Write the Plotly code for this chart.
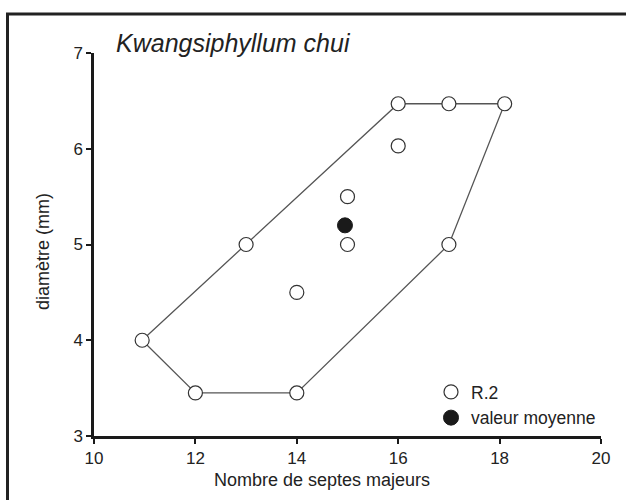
import plotly.graph_objects as go

# Data
r2_x = [10.95, 12, 14, 13, 14, 15, 15, 16, 16, 17, 18.1, 17]
r2_y = [4.0, 3.45, 3.45, 5.0, 4.5, 5.5, 5.0, 6.03, 6.47, 6.47, 6.47, 5.0]
hull_x = [10.95, 13, 16, 17, 18.1, 17, 14, 12, 10.95]
hull_y = [4.0, 5.0, 6.47, 6.47, 6.47, 5.0, 3.45, 3.45, 4.0]
mean_x = [14.95]
mean_y = [5.2]
x_ticks = [10, 12, 14, 16, 18, 20]
y_ticks = [3, 4, 5, 6, 7]

W, H = 626, 500
ML, MR, MT, MB = 94, 25, 53, 64
PW, PH = W - ML - MR, H - MT - MB

def px2paper_x(px):
    return (px - ML) / PW

def px2paper_y(py):
    return (H - MB - py) / PH

FONT = "Liberation Sans, Arial, sans-serif"
TXT = "#222222"

fig = go.Figure()
fig.add_trace(go.Scatter(
    x=hull_x, y=hull_y, mode="lines",
    line=dict(color="#555555", width=1.3),
    showlegend=False, hoverinfo="skip"))
fig.add_trace(go.Scatter(
    x=r2_x, y=r2_y, mode="markers", name="R.2",
    marker=dict(symbol="circle", size=14, color="white",
                line=dict(color="#333333", width=1.2))))
fig.add_trace(go.Scatter(
    x=mean_x, y=mean_y, mode="markers", name="valeur moyenne",
    marker=dict(symbol="circle", size=15, color="#1a1a1a",
                line=dict(color="#1a1a1a", width=1))))

fig.update_layout(
    width=W, height=H,
    margin=dict(l=ML, r=MR, t=MT, b=MB),
    paper_bgcolor="white", plot_bgcolor="white",
    font=dict(family=FONT, color=TXT, size=17),
    xaxis=dict(range=[10, 20], tickvals=x_ticks, showgrid=False, zeroline=False,
               showline=True, linecolor="#1a1a1a", linewidth=2.5,
               ticks="outside", ticklen=5, tickwidth=2, tickcolor="#1a1a1a",
               tickfont=dict(size=17, color=TXT)),
    yaxis=dict(range=[3, 7], tickvals=y_ticks, showgrid=False, zeroline=False,
               showline=True, linecolor="#1a1a1a", linewidth=2.5,
               ticks="outside", ticklen=5, tickwidth=2, tickcolor="#1a1a1a",
               tickfont=dict(size=17, color=TXT)),
    legend=dict(x=px2paper_x(431), y=px2paper_y(374), xanchor="left", yanchor="top",
                bgcolor="rgba(0,0,0,0)", borderwidth=0,
                font=dict(size=17.5, color=TXT), itemsizing="trace"),
    shapes=[dict(type="rect", xref="paper", yref="paper",
                 x0=px2paper_x(7.5), x1=px2paper_x(W + 20),
                 y0=px2paper_y(H + 20), y1=px2paper_y(14),
                 line=dict(color="#222222", width=3), fillcolor="rgba(0,0,0,0)", layer="below")],
    annotations=[
        dict(text="<i>Kwangsiphyllum chui</i>", xref="paper", yref="paper",
             x=px2paper_x(114), y=px2paper_y(43), xanchor="left", yanchor="middle",
             showarrow=False, font=dict(size=25, color=TXT, family=FONT)),
        dict(text="Nombre de septes majeurs", xref="paper", yref="paper",
             x=px2paper_x(322), y=px2paper_y(480), xanchor="center", yanchor="middle",
             showarrow=False, font=dict(size=18, color=TXT, family=FONT)),
        dict(text="diamètre (mm)", xref="paper", yref="paper", textangle=-90,
             x=px2paper_x(43), y=px2paper_y(252), xanchor="center", yanchor="middle",
             showarrow=False, font=dict(size=18, color=TXT, family=FONT)),
    ],
)

fig.write_html("out.html", config={"displayModeBar": False},
               post_script="document.body.style.margin='0';document.body.style.overflow='hidden';")
